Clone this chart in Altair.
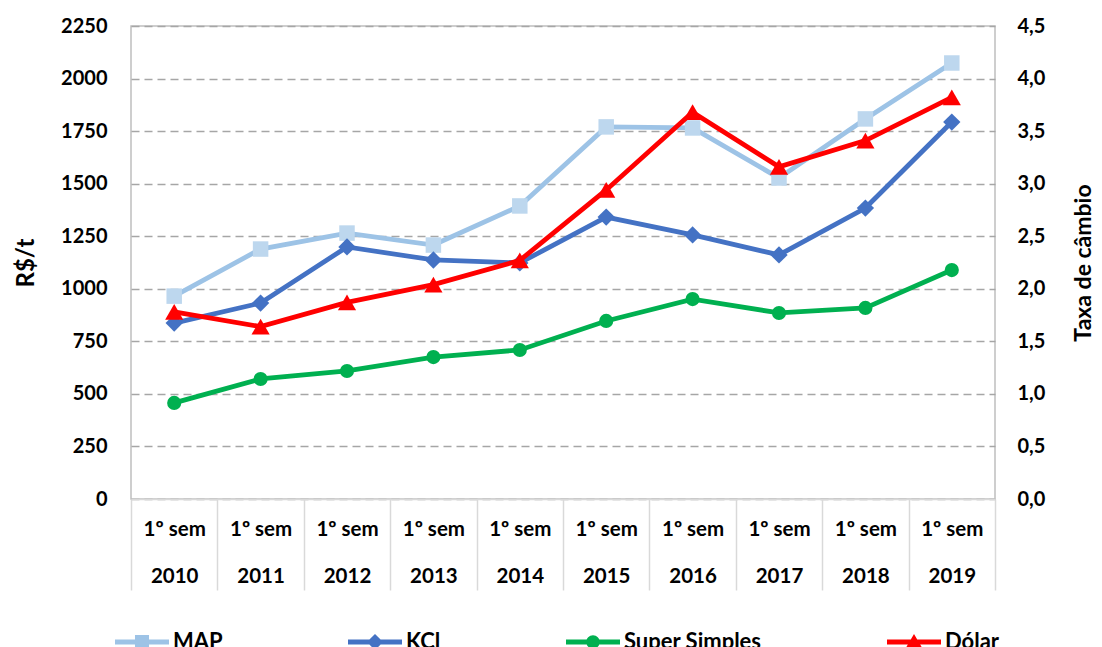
import altair as alt
import pandas as pd

# ---- data ----
years = ["2010", "2011", "2012", "2013", "2014", "2015", "2016", "2017", "2018", "2019"]
semester_label = "1º sem"
series_names = ["MAP", "KCl", "Super Simples", "Dólar"]
map_vals = [965, 1189, 1265, 1208, 1394, 1770, 1765, 1527, 1808, 2074]
kcl_vals = [837, 932, 1199, 1137, 1123, 1341, 1256, 1161, 1384, 1793]
ss_vals = [457, 571, 609, 675, 709, 847, 951, 885, 909, 1089]
dolar_vals = [1.78, 1.64, 1.87, 2.04, 2.27, 2.94, 3.68, 3.16, 3.41, 3.82]
left_ticks = [0, 250, 500, 750, 1000, 1250, 1500, 1750, 2000, 2250]
right_ticks = [0.0, 0.5, 1.0, 1.5, 2.0, 2.5, 3.0, 3.5, 4.0, 4.5]

# ---- styles ----
line_colors = ["#9dc3e6", "#4472c4", "#00b050", "#ff0000"]
marker_colors = ["#bdd7ee", "#4472c4", "#00b050", "#ff0000"]
marker_shapes = ["square", "diamond", "circle", "triangle-up"]
marker_sizes = [240, 300, 200, 330]
legend_paths = [
    "M-1,-0.09H1V0.09H-1Z M-0.26,-0.26H0.26V0.26H-0.26Z",
    "M-1,-0.09H1V0.09H-1Z M0,-0.3L0.3,0L0,0.3L-0.3,0Z",
    "M-1,-0.09H1V0.09H-1Z M-0.25,0A0.25,0.25 0 1,1 0.25,0A0.25,0.25 0 1,1 -0.25,0Z",
    "M-1,-0.09H1V0.09H-1Z M0,-0.3L0.32,0.25L-0.32,0.25Z",
]
FONT = "Lato"

all_vals = [map_vals, kcl_vals, ss_vals, dolar_vals]
rows = []
for name, vals in zip(series_names, all_vals):
    for y, v in zip(years, vals):
        rows.append({"year": y, "series": name, "value": v})
df = pd.DataFrame(rows)

x_enc = alt.X(
    "year:N",
    sort=years,
    scale=alt.Scale(type="band", paddingInner=0, paddingOuter=0),
    axis=alt.Axis(
        title=None,
        labelAngle=0,
        labelExpr=f"isValid(datum.value) && datum.value != '' ? ['{semester_label}', datum.value] : ''",
        labelLineHeight=47,
        labelBaseline="top",
        labelPadding=-71,
        labelFontSize=20.5,
        labelOverlap=False,
        labelBound=False,
        tickBand="extent",
        tickSize=91,
        tickColor="#d9d9d9",
        tickWidth=1.5,
        domainColor="#d9d9d9",
        domainWidth=1.5,
        grid=False,
    ),
)

y_left = alt.Y(
    "value:Q",
    scale=alt.Scale(domain=[0, 2250], nice=False),
    axis=alt.Axis(
        values=left_ticks,
        format="d",
        title="R$/t",
        grid=True,
        gridDash=[8, 5],
        gridColor="#a6a6a6",
        gridWidth=1.3,
        domain=False,
        ticks=False,
        labelPadding=24,
        titlePadding=22,
    ),
)

y_right = alt.Y(
    "value:Q",
    scale=alt.Scale(domain=[0, 4.5], nice=False),
    axis=alt.Axis(
        orient="right",
        values=right_ticks,
        labelExpr="replace(format(datum.value, '.1f'), '.', ',')",
        title="Taxa de câmbio",
        titleAngle=270,
        titleFontSize=23,
        grid=False,
        domain=False,
        ticks=False,
        labelPadding=22,
        titlePadding=51,
    ),
)

base = alt.Chart(df)


def series_layers(i, y_enc):
    name = series_names[i]
    sub = base.transform_filter(alt.datum.series == name)
    line = sub.mark_line(color=line_colors[i], strokeWidth=4.8).encode(x=x_enc, y=y_enc)
    pts = sub.mark_point(
        shape=marker_shapes[i], filled=True, size=marker_sizes[i],
        color=marker_colors[i], opacity=1,
    ).encode(x=x_enc, y=y_enc)
    return [line, pts]


legend = alt.Legend(
    orient="none",
    legendX=-16,
    legendY=589,
    direction="horizontal",
    columns=4,
    title=None,
    symbolSize=2916,
    symbolOpacity=1,
    symbolStrokeWidth=0,
    labelFont=FONT,
    labelFontSize=22,
    labelFontWeight="bold",
    labelColor="#000000",
    labelOffset=4,
    columnPadding=125,
)

legend_layer = base.mark_point(filled=True, opacity=0).encode(
    x=x_enc,
    y=y_left,
    color=alt.Color("series:N", scale=alt.Scale(domain=series_names, range=line_colors), legend=legend),
    shape=alt.Shape("series:N", scale=alt.Scale(domain=series_names, range=legend_paths), legend=legend),
)

left_layers = []
for i in range(3):
    left_layers += series_layers(i, y_left)
left = alt.layer(*left_layers, legend_layer)
right = alt.layer(*series_layers(3, y_right))

chart = (
    alt.layer(left, right)
    .resolve_scale(y="independent")
    .properties(
        width=864,
        height=473,
        autosize=alt.AutoSizeParams(type="none"),
        padding={"left": 123, "top": 18, "right": 99, "bottom": 148},
    )
    .configure_view(stroke="#bfbfbf", strokeWidth=1.5)
    .configure_axis(
        labelFont=FONT,
        labelFontSize=20,
        labelFontWeight="bold",
        labelColor="#000000",
        titleFont=FONT,
        titleFontSize=24,
        titleFontWeight="bold",
        titleColor="#000000",
    )
)

chart.save("out.html", embed_options={"renderer": "svg", "actions": False})
